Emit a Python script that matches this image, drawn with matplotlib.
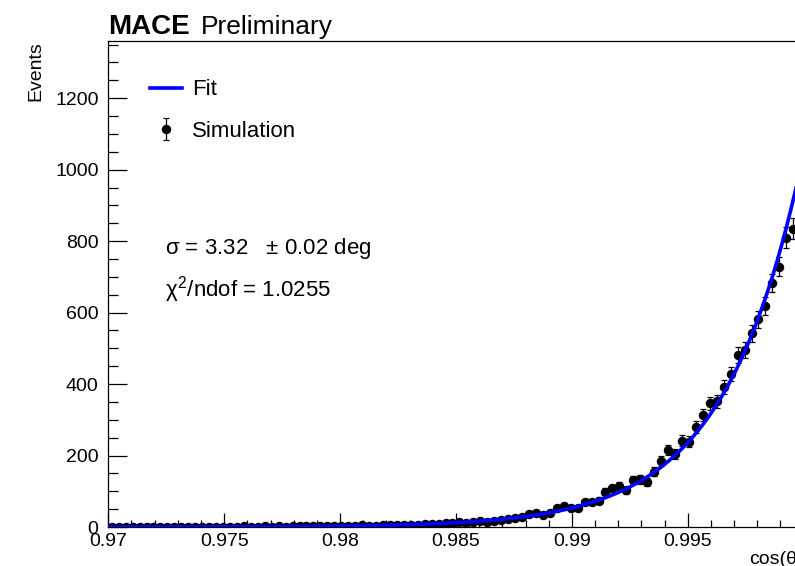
import numpy as np
import matplotlib
matplotlib.use('Agg')
import matplotlib.pyplot as plt

plt.rcParams['font.family'] = ['Liberation Sans', 'DejaVu Sans']
plt.rcParams['mathtext.fontset'] = 'custom'
plt.rcParams['mathtext.rm'] = 'Liberation Sans'
plt.rcParams['mathtext.it'] = 'Liberation Sans'
plt.rcParams['mathtext.bf'] = 'Liberation Sans:bold'

# histogram: 100 bins in cos(theta) from 0.97 to 1.0
x_lo, x_hi, n_bins = 0.97, 1.0, 100
counts = [
    0, 1, 0, 0, 1, 0, 0, 1, 0, 0,
    1, 0, 1, 0, 0, 1, 1, 0, 1, 2,
    1, 1, 2, 1, 2, 1, 2, 3, 2, 3,
    2, 3, 3, 4, 3, 4, 5, 4, 3, 5,
    5, 6, 5, 7, 6, 8, 9, 8, 11, 12,
    13, 12, 14, 16, 15, 18, 20, 21, 24, 27,
    37, 38, 33, 39, 52, 59, 52, 52, 71, 70,
    74, 99, 108, 115, 103, 131, 133, 127, 155, 185,
    215, 204, 241, 239, 280, 313, 346, 352, 391, 428,
    481, 495, 542, 581, 619, 683, 728, 810, 835, 900,
]

# fit result
sigma_deg = 3.32
sigma_err = 0.02
norm = 1047.0
chi2_ndof = 1.0255

edges = np.linspace(x_lo, x_hi, n_bins + 1)
centers = 0.5 * (edges[:-1] + edges[1:])
counts = np.array(counts, dtype=float)
errs = np.sqrt(counts)

sig_rad = np.deg2rad(sigma_deg)
xf = np.linspace(x_lo, x_hi, 600)
yf = norm * np.exp(-(1 - xf) / sig_rad**2)

fig = plt.figure(figsize=(7.95, 5.66), dpi=100)
ax = fig.add_axes([0.1362, 0.0689, 0.8747, 0.8587])

sim = ax.errorbar(centers, counts, yerr=errs, fmt='o', color='black', ms=5.8,
                  elinewidth=0.9, capsize=2.5, capthick=0.9, zorder=2)
fit, = ax.plot(xf, yf, color='#0000ff', lw=2.6, zorder=3)

ax.set_xlim(x_lo, x_hi)
ax.set_ylim(0, 1360)
ax.set_xticks(np.arange(0.97, 1.0001, 0.005))
ax.set_xticks(np.arange(0.97, 1.0001, 0.001), minor=True)
ax.set_xticklabels(['0.97', '0.975', '0.98', '0.985', '0.99', '0.995', ''])
ax.set_yticks(np.arange(0, 1201, 200))
ax.set_yticks(np.arange(0, 1360, 50), minor=True)
ax.tick_params(axis='both', which='both', direction='in', top=False, right=False,
               labelsize=14, width=0.9)
ax.tick_params(axis='y', which='major', length=14, pad=7)
ax.tick_params(axis='y', which='minor', length=7)
ax.tick_params(axis='x', which='major', length=10, pad=4)
ax.tick_params(axis='x', which='minor', length=5)
for s in ax.spines.values():
    s.set_linewidth(0.9)

ax.set_ylabel('Events', fontsize=14, loc='top', labelpad=8)
ax.set_xlabel('cos(θ)', fontsize=14, loc='right', labelpad=1)

fig.text(108 / 795, 1 - 34 / 566, 'MACE', fontsize=20, fontweight='bold',
         ha='left', va='baseline')
fig.text(201 / 795, 1 - 34 / 566, 'Preliminary', fontsize=19,
         ha='left', va='baseline')

leg = ax.legend([fit, sim], ['Fit', 'Simulation'], loc='upper left',
                bbox_to_anchor=(0.031, 0.962), frameon=False, fontsize=16,
                handlelength=1.45, handletextpad=0.45, labelspacing=0.93)

ax.text(0.082, 0.574, r'$\sigma$ = %.2f   $\pm$ %.2f deg' % (sigma_deg, sigma_err),
        transform=ax.transAxes, fontsize=16, va='center')
ax.text(0.082, 0.4877, r'$\chi^{2}$/ndof = %.4f' % chi2_ndof,
        transform=ax.transAxes, fontsize=16, va='center')

fig.savefig('out.png', dpi=100)
